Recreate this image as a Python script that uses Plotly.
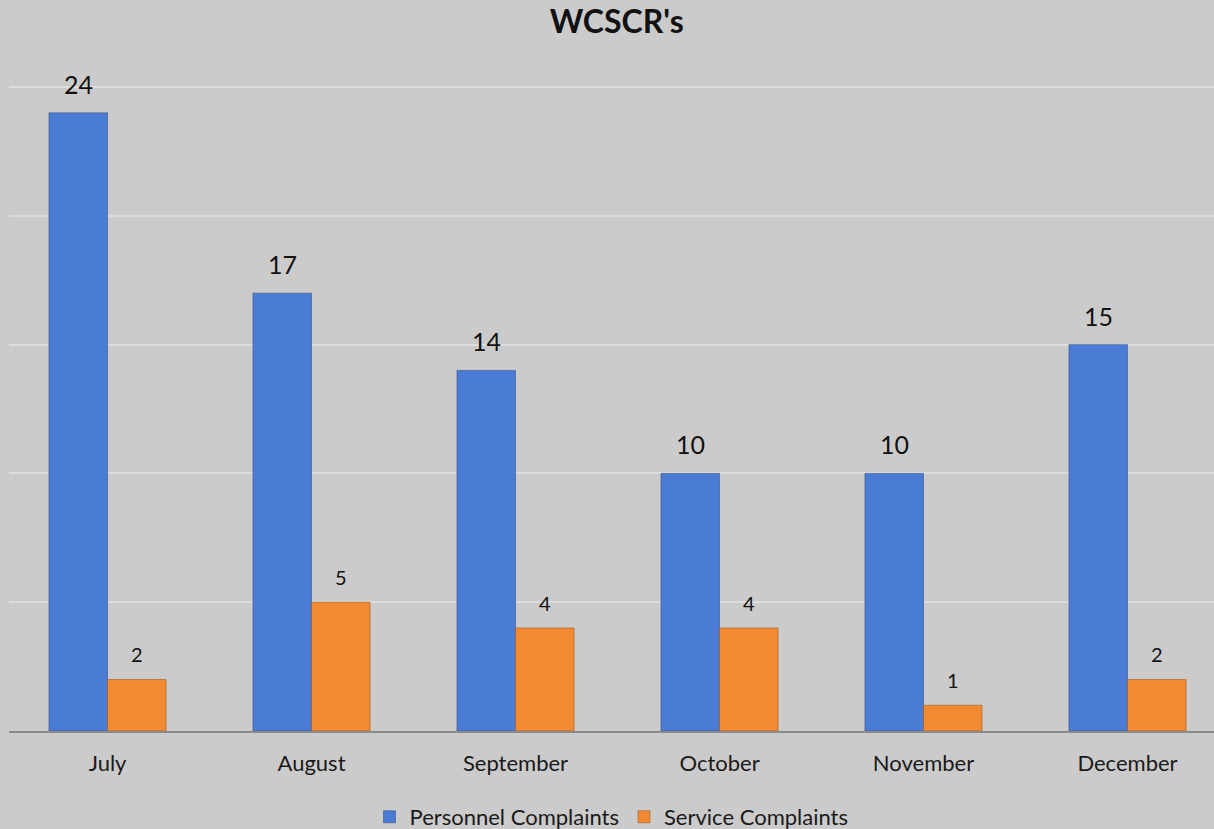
import plotly.graph_objects as go

months = ["July", "August", "September", "October", "November", "December"]
personnel = [24, 17, 14, 10, 10, 15]
service = [2, 5, 4, 4, 1, 2]
series_names = ["Personnel Complaints", "Service Complaints"]

BLUE = "#4A7CD6"
ORANGE = "#F28A34"
BG = "#CBCBCB"
FONT = "Lato"

W, H = 1214, 829
ML, MR, MT, MB = 9, 0, 84, 98
X_RANGE = [-0.483, 5.424]
Y_RANGE = [0, 25.12]
BARGAP = 0.426

fig = go.Figure()
fig.add_trace(go.Bar(
    x=months, y=personnel, name=series_names[0],
    marker=dict(color=BLUE, line=dict(color="rgba(50,75,130,0.55)", width=1)),
))
fig.add_trace(go.Bar(
    x=months, y=service, name=series_names[1],
    marker=dict(color=ORANGE, line=dict(color="rgba(150,80,20,0.5)", width=1)),
))

px_per_unit = (W - ML - MR) / (X_RANGE[1] - X_RANGE[0])
shift = (1 - BARGAP) / 4 * px_per_unit

annotations = []
for m, v in zip(months, personnel):
    annotations.append(dict(x=m, y=v, text=str(v), showarrow=False,
                            xshift=-shift, yshift=29, yanchor="middle",
                            font=dict(family=FONT, size=25, color="#111111")))
for m, v in zip(months, service):
    annotations.append(dict(x=m, y=v, text=str(v), showarrow=False,
                            xshift=shift, yshift=25, yanchor="middle",
                            font=dict(family=FONT, size=20, color="#111111")))

fig.update_layout(
    width=W, height=H,
    margin=dict(l=ML, r=MR, t=MT, b=MB, autoexpand=False),
    paper_bgcolor=BG, plot_bgcolor=BG,
    barmode="group", bargap=BARGAP, bargroupgap=0,
    title=dict(text="<b>WCSCR's</b>", x=0.508, xanchor="center",
               y=1 - 22 / H, yanchor="middle",
               font=dict(family=FONT, size=32, color="#111111")),
    xaxis=dict(range=X_RANGE, showgrid=False, showline=True, linecolor="#8A8A8A",
               linewidth=2, ticks="", ticklabelstandoff=12,
               tickfont=dict(family=FONT, size=22, color="#1a1a1a")),
    yaxis=dict(range=Y_RANGE, dtick=5, showgrid=True, gridcolor="#DCDCDC",
               gridwidth=2, showticklabels=False, zeroline=False),
    legend=dict(orientation="h", x=0.5, xanchor="center",
                yref="container", y=1 - 817 / H, yanchor="middle",
                font=dict(family=FONT, size=22, color="#1a1a1a"),
                bgcolor="rgba(0,0,0,0)"),
    annotations=annotations,
    showlegend=True,
)

fig.write_html("out.html", config={"displayModeBar": False},
               post_script="document.body.style.margin='0';document.body.style.background='%s';" % BG)
